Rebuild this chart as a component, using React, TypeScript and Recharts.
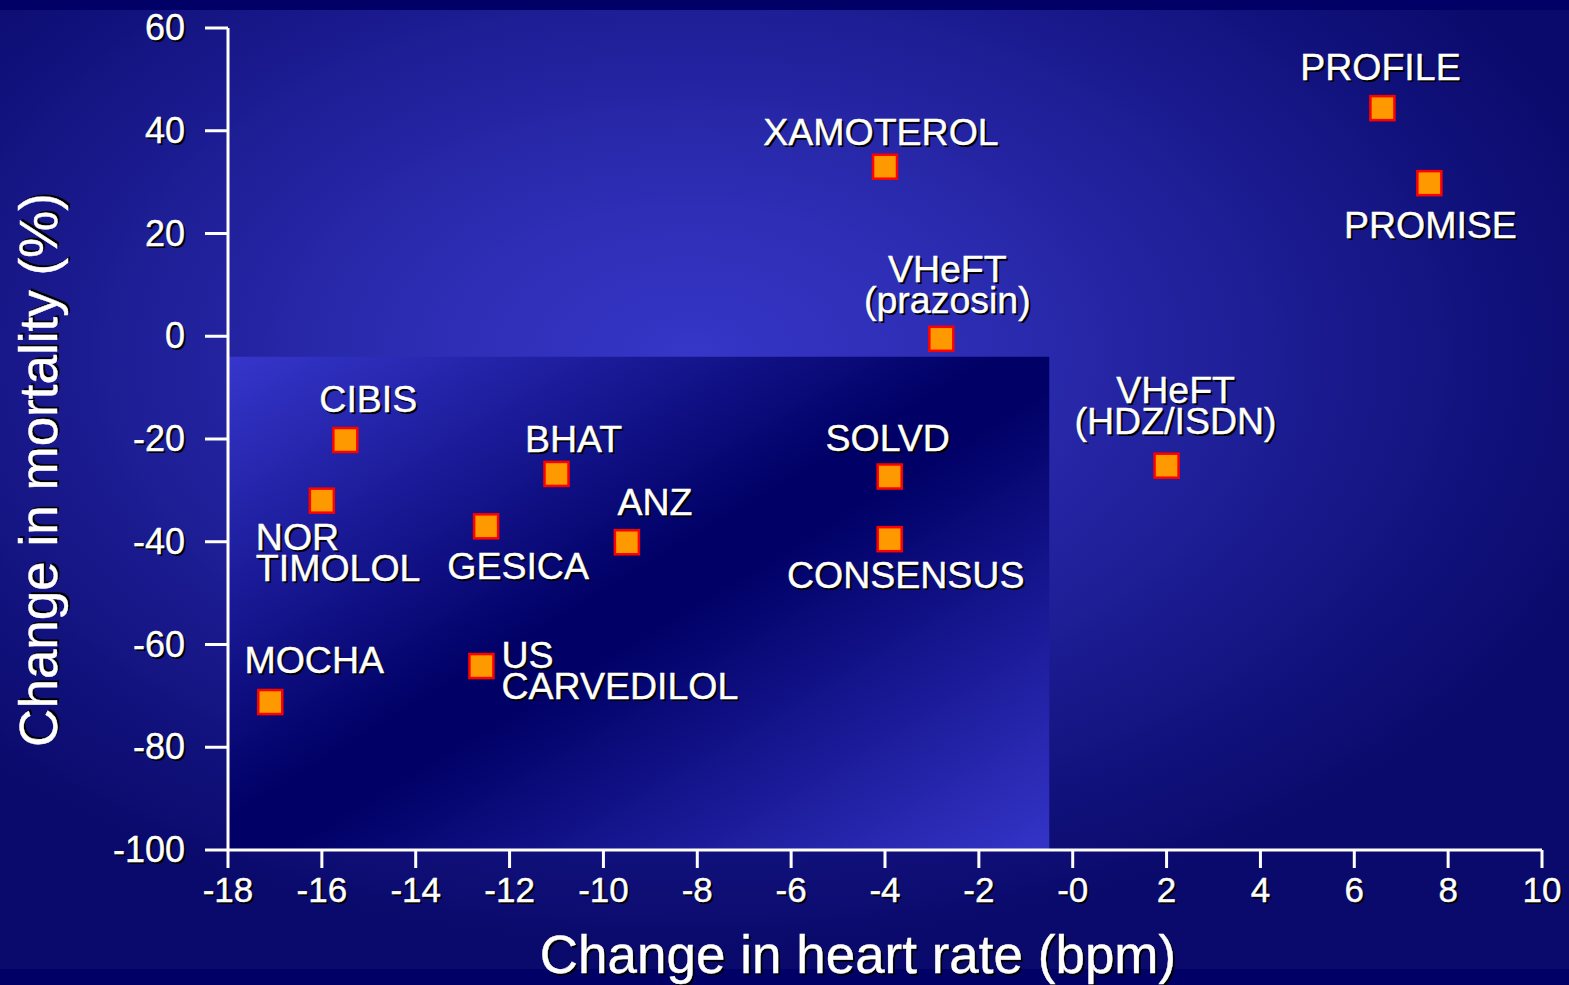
import { ReferenceArea, Scatter, ScatterChart, XAxis, YAxis } from "recharts";

// trial results: change in heart rate (bpm) vs change in mortality (%)
const trials = [
  "PROFILE",
  "PROMISE",
  "XAMOTEROL",
  "VHeFT (prazosin)",
  "VHeFT (HDZ/ISDN)",
  "SOLVD",
  "CONSENSUS",
  "CIBIS",
  "NOR TIMOLOL",
  "BHAT",
  "GESICA",
  "ANZ",
  "US CARVEDILOL",
  "MOCHA",
];
const heartRateChange = [6.6, 7.6, -4.0, -2.8, 2.0, -3.9, -3.9, -15.5, -16.0, -11.0, -12.5, -9.5, -12.6, -17.1];
const mortalityChange = [44.4, 29.8, 33, -0.5, -25.2, -27.3, -39.5, -20.2, -32, -26.8, -37, -40.1, -64.2, -71.2];

const labelLines: Record<string, string[]> = {
  "VHeFT (prazosin)": ["VHeFT", "(prazosin)"],
  "VHeFT (HDZ/ISDN)": ["VHeFT", "(HDZ/ISDN)"],
  "NOR TIMOLOL": ["NOR", "TIMOLOL"],
  "US CARVEDILOL": ["US", "CARVEDILOL"],
};

const xTicks = [-18, -16, -14, -12, -10, -8, -6, -4, -2, 0, 2, 4, 6, 8, 10];
const xTickLabels = ["-18", "-16", "-14", "-12", "-10", "-8", "-6", "-4", "-2", "-0", "2", "4", "6", "8", "10"];
const yTicks = [-100, -80, -60, -40, -20, 0, 20, 40, 60];
const yTickLabels = ["-100", "-80", "-60", "-40", "-20", "0", "20", "40", "60"];

// highlighted region (lower-left)
const regionX = [-18, -0.5];
const regionY = [-100, -4];

const data = trials.map((name, i) => ({
  name,
  x: heartRateChange[i],
  y: mortalityChange[i],
}));

// label placement relative to the marker centre
const labelPos: Record<string, { dx: number, dy: number, anchor: "start" | "middle" | "end" }> = {
  PROFILE: { dx: -2, dy: -28, anchor: "middle" },
  PROMISE: { dx: 1, dy: 55, anchor: "middle" },
  XAMOTEROL: { dx: -4, dy: -22, anchor: "middle" },
  "VHeFT (prazosin)": { dx: 6, dy: -57, anchor: "middle" },
  "VHeFT (HDZ/ISDN)": { dx: 9, dy: -63, anchor: "middle" },
  SOLVD: { dx: -2, dy: -26, anchor: "middle" },
  CONSENSUS: { dx: 16, dy: 49, anchor: "middle" },
  CIBIS: { dx: 23, dy: -28, anchor: "middle" },
  "NOR TIMOLOL": { dx: -66, dy: 49, anchor: "start" },
  BHAT: { dx: 17, dy: -22, anchor: "middle" },
  GESICA: { dx: 32, dy: 53, anchor: "middle" },
  ANZ: { dx: 28, dy: -27, anchor: "middle" },
  "US CARVEDILOL": { dx: 20, dy: 2, anchor: "start" },
  MOCHA: { dx: 44, dy: -29, anchor: "middle" },
};

const FONT = "'Liberation Sans', Arial, Helvetica, sans-serif";

function ShadowText(props: any) {
  const { x, y, children, size = 36, anchor = "middle", transform } = props;
  const common = {
    fontFamily: FONT,
    fontSize: size,
    textAnchor: anchor,
  };
  return (
    <g transform={transform}>
      <text x={x + 2} y={y + 2} fill="#000000" {...common}>{children}</text>
      <text x={x} y={y} fill="#ffffff" stroke="#ffffff" strokeWidth={0.4} {...common}>{children}</text>
    </g>
  );
}

function Marker(props: any) {
  const { cx, cy, payload } = props;
  const pos = labelPos[payload.name];
  const lines = labelLines[payload.name] || [payload.name];
  return (
    <g>
      <rect x={cx - 12} y={cy - 12} width={24} height={24} fill="#FF9900" stroke="#FF0000" strokeWidth={2.5} />
      {lines.map((line, i) => (
        <ShadowText key={i} x={cx + pos.dx} y={cy + pos.dy + i * 31} anchor={pos.anchor} size={37.5}>
          {line}
        </ShadowText>
      ))}
    </g>
  );
}

function XTick(props: any) {
  const { x, y, payload } = props;
  return (
    <ShadowText x={x} y={y + 26} size={35}>
      {xTickLabels[xTicks.indexOf(payload.value)]}
    </ShadowText>
  );
}

function YTick(props: any) {
  const { x, y, payload } = props;
  return (
    <ShadowText x={x} y={y + 12} size={36} anchor="end">
      {yTickLabels[yTicks.indexOf(payload.value)]}
    </ShadowText>
  );
}

export default function App() {
  return (
    <div style={{ position: "relative", width: 1569, height: 985, background: "#000066", overflow: "hidden" }}>
      <style>{"body{margin:0}"}</style>
      <div
        style={{
          position: "absolute",
          left: 0,
          right: 0,
          top: 10,
          bottom: 16,
          background:
            "radial-gradient(ellipse 62% 62% at 44% 36%, #3636c8 0%, #2c2cb2 30%, #1d1d94 60%, #10107a 85%, #0a0a6c 100%)",
        }}
      />
      <div style={{ position: "absolute", left: 0, top: 0 }}>
        <ScatterChart width={1569} height={985} margin={{ top: 28, right: 27, bottom: 0, left: 0 }}>
          <defs>
            <linearGradient id="regionGrad" x1="0" y1="0" x2="1" y2="1">
              <stop offset="0%" stopColor="#3636cc" />
              <stop offset="47%" stopColor="#000066" />
              <stop offset="53%" stopColor="#000066" />
              <stop offset="100%" stopColor="#3434c8" />
            </linearGradient>
          </defs>
          <XAxis
            type="number"
            dataKey="x"
            domain={[-18, 10]}
            ticks={xTicks}
            interval={0}
            height={135}
            axisLine={{ stroke: "#ffffff", strokeWidth: 3 }}
            tickLine={{ stroke: "#ffffff", strokeWidth: 3 }}
            tickSize={18}
            tickMargin={8}
            tick={<XTick />}
            label={{
              content: () => (
                <ShadowText x={858} y={973} size={53}>
                  Change in heart rate (bpm)
                </ShadowText>
              ),
            }}
          />
          <YAxis
            type="number"
            dataKey="y"
            domain={[-100, 60]}
            ticks={yTicks}
            interval={0}
            width={228}
            axisLine={{ stroke: "#ffffff", strokeWidth: 3 }}
            tickLine={{ stroke: "#ffffff", strokeWidth: 3 }}
            tickSize={23}
            tickMargin={20}
            tick={<YTick />}
            label={{
              content: () => (
                <ShadowText x={0} y={0} size={53} transform="translate(57 470) rotate(-90)">
                  Change in mortality (%)
                </ShadowText>
              ),
            }}
          />
          <ReferenceArea
            x1={regionX[0]}
            x2={regionX[1]}
            y1={regionY[0]}
            y2={regionY[1]}
            fill="url(#regionGrad)"
            fillOpacity={1}
            stroke="none"
          />
          <Scatter data={data} shape={<Marker />} isAnimationActive={false} />
        </ScatterChart>
      </div>
    </div>
  );
}
